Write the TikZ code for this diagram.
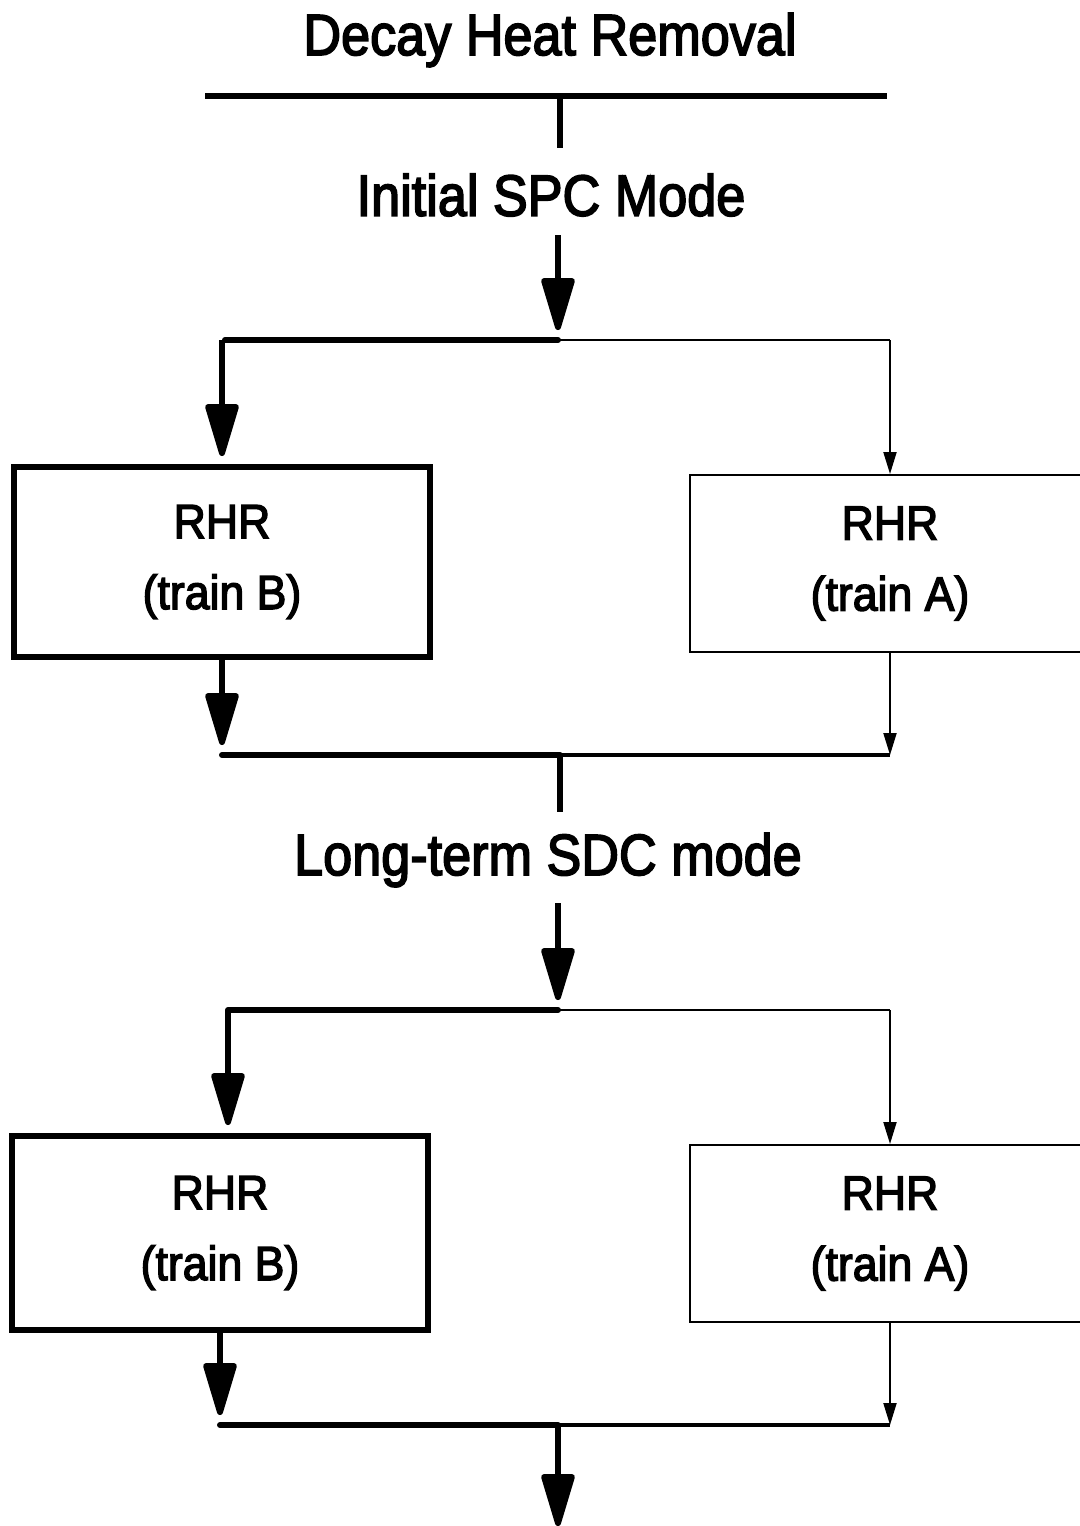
\documentclass[tikz,border=0pt]{standalone}
\usepackage{fontspec}
\setmainfont{Liberation Sans}
\newfontfamily\midfont[UprightFeatures={FakeBold=3}]{Liberation Sans}
\usetikzlibrary{arrows.meta}

\tikzset{
  heavy/.style={line width=3pt},
  light/.style={line width=1pt},
  bigtip/.style={heavy,-{Triangle[length=30pt,width=17pt,round]}},
  smalltip/.style={light,-{Triangle[length=11pt,width=6.5pt]}},
  heading/.style={font=\midfont\fontsize{29}{29}\selectfont,inner sep=0pt,xscale=0.90},
  rhrbox/.style={align=center,font=\midfont\fontsize{24}{35.5}\selectfont,inner sep=0pt}
}

\begin{document}
\begin{tikzpicture}[x=0.5pt,y=-0.5pt]
\useasboundingbox (0,0) rectangle (1080,1526);
% top heading
\node[heading] (title) at (550,40) {Decay Heat Removal};
\coordinate (barL) at (205,96); \coordinate (barR) at (887,96);
\coordinate (barM) at (560,96); \coordinate (spcT) at (560,148);
\draw[heavy] (barL) -- (barR);
\draw[heavy] (barM) -- (spcT);
% initial mode
\node[heading] (spc) at (551,195) {Initial SPC Mode};
\coordinate (spcB) at (558,235); \coordinate (splitM) at (558,340);
\coordinate (splitL) at (225,340); \coordinate (splitR) at (890,340);
\draw[bigtip] (spcB) -- ([yshift=5pt]splitM);
\draw[heavy,line cap=round] (splitL) -- (splitM);
\draw[light] (splitM) -- (splitR);
% first pair of trains
\node[rhrbox,draw,heavy,minimum width=208pt,minimum height=95pt] (rhrB) at (222,562) {\scalebox{0.93}[1]{RHR}\\\scalebox{0.93}[1]{(train B)}};
\node[rhrbox,draw,light,minimum width=200pt,minimum height=88.5pt] (rhrA) at (890,563.5) {\scalebox{0.93}[1]{RHR}\\\scalebox{0.93}[1]{(train A)}};
\draw[bigtip] (splitL -| rhrB) -- ([yshift=4pt]rhrB.north);
\draw[smalltip] (splitR) -- (rhrA.north);
\coordinate (joinL) at (222,755); \coordinate (joinM) at (560,755);
\coordinate (joinR) at (890,755); \coordinate (sdcT) at (560,812);
\draw[bigtip] (rhrB.south) -- ([yshift=5pt]joinL);
\draw[smalltip] (rhrA.south) -- (joinR);
\draw[heavy,line cap=round] (joinL) -- (joinM);
\draw[line width=1.6pt] (joinM) -- (joinR);
\draw[heavy] (joinM) -- (sdcT);
% long-term mode
\node[heading] (sdc) at (548,860) {Long-term SDC mode};
\coordinate (sdcB) at (558,903); \coordinate (split2M) at (558,1010);
\coordinate (split2L) at (228,1010); \coordinate (split2R) at (890,1010);
\draw[bigtip] (sdcB) -- ([yshift=5pt]split2M);
\draw[heavy,line cap=round] (split2L) -- (split2M);
\draw[light] (split2M) -- (split2R);
% second pair of trains
\node[rhrbox,draw,heavy,minimum width=208pt,minimum height=97pt] (rhrB2) at (220,1233) {\scalebox{0.93}[1]{RHR}\\\scalebox{0.93}[1]{(train B)}};
\node[rhrbox,draw,light,minimum width=200pt,minimum height=88.5pt] (rhrA2) at (890,1233.5) {\scalebox{0.93}[1]{RHR}\\\scalebox{0.93}[1]{(train A)}};
\draw[bigtip] (split2L) -- ([yshift=4pt]split2L |- rhrB2.north);
\draw[smalltip] (split2R) -- (rhrA2.north);
\coordinate (join2L) at (220,1425); \coordinate (join2M) at (558,1425);
\coordinate (join2R) at (890,1425); \coordinate (outB) at (558,1526);
\draw[bigtip] (rhrB2.south) -- ([yshift=5pt]join2L);
\draw[smalltip] (rhrA2.south) -- (join2R);
\draw[heavy,line cap=round] (join2L) -- (join2M);
\draw[line width=2pt] (join2M) -- (join2R);
\draw[bigtip] (join2M) -- (outB);
\end{tikzpicture}
\end{document}
